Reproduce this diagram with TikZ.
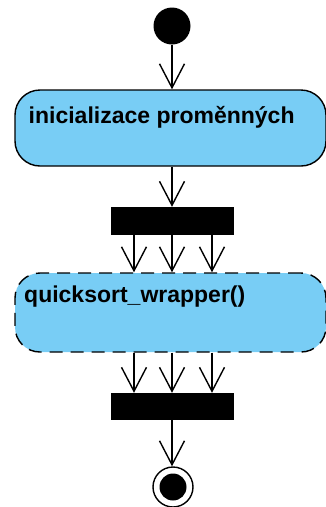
\documentclass[tikz,border=0pt]{standalone}
\usepackage{fontspec}
\setmainfont{Liberation Sans}
\usetikzlibrary{arrows.meta}
\definecolor{actfill}{RGB}{120,205,245}
\tikzset{
  flow/.style={line width=1.4pt,-{Straight Barb[length=24pt,width=25pt,line width=1.4pt]}},
  action/.style={draw,line width=1.4pt,fill=actfill,rounded corners=25pt,
    minimum width=311pt,inner sep=0pt},
  forkbar/.style={draw,fill=black,minimum width=122pt,minimum height=27pt,inner sep=0pt},
  acttext/.style={anchor=base west,inner sep=0pt,font=\bfseries\fontsize{23}{27}\selectfont}
}
\begin{document}
\begin{tikzpicture}[x=1pt,y=-1pt]
\useasboundingbox (0,0) rectangle (326,507);
\clip (0,0) rectangle (326,507);

% initial state
\node[circle,fill=black,minimum size=37pt,inner sep=0pt] (start) at (172,26) {};

% first action
\node[action,minimum height=76pt] (act1) at (170.5,128) {};
\node[acttext] (t1) at (28.5,123.5) {inicializace proměnných};

% fork bar
\node[forkbar] (bar1) at (172,220.5) {};

% second action (dashed border)
\node[action,dash pattern=on 13pt off 8pt,minimum height=79pt] (act2) at (170.5,312.5) {};
\node[acttext] (t2) at (24,302) {quicksort\_wrapper()};

% join bar
\node[forkbar,minimum height=26pt] (bar2) at (172,406) {};

% final state
\node[circle,draw,line width=1.4pt,minimum size=40pt,inner sep=0pt] (final) at (173,487) {};
\node[circle,fill=black,minimum size=27pt,inner sep=0pt] (finaldot) at (final) {};

% parallel flow positions
\coordinate (f1) at (134,0);
\coordinate (f2) at (172,0);
\coordinate (f3) at (212,0);

% connectors
\draw[flow] (start) -- (act1.north -| start);
\draw[flow] (act1.south -| bar1) -- (bar1.north);
\foreach \f in {f1,f2,f3} {
  \draw[flow] (bar1.south -| \f) -- (act2.north -| \f);
  \draw[flow] (act2.south -| \f) -- (bar2.north -| \f);
}
\draw[flow] (bar2.south) -- (final.north -| bar2);
\end{tikzpicture}
\end{document}
